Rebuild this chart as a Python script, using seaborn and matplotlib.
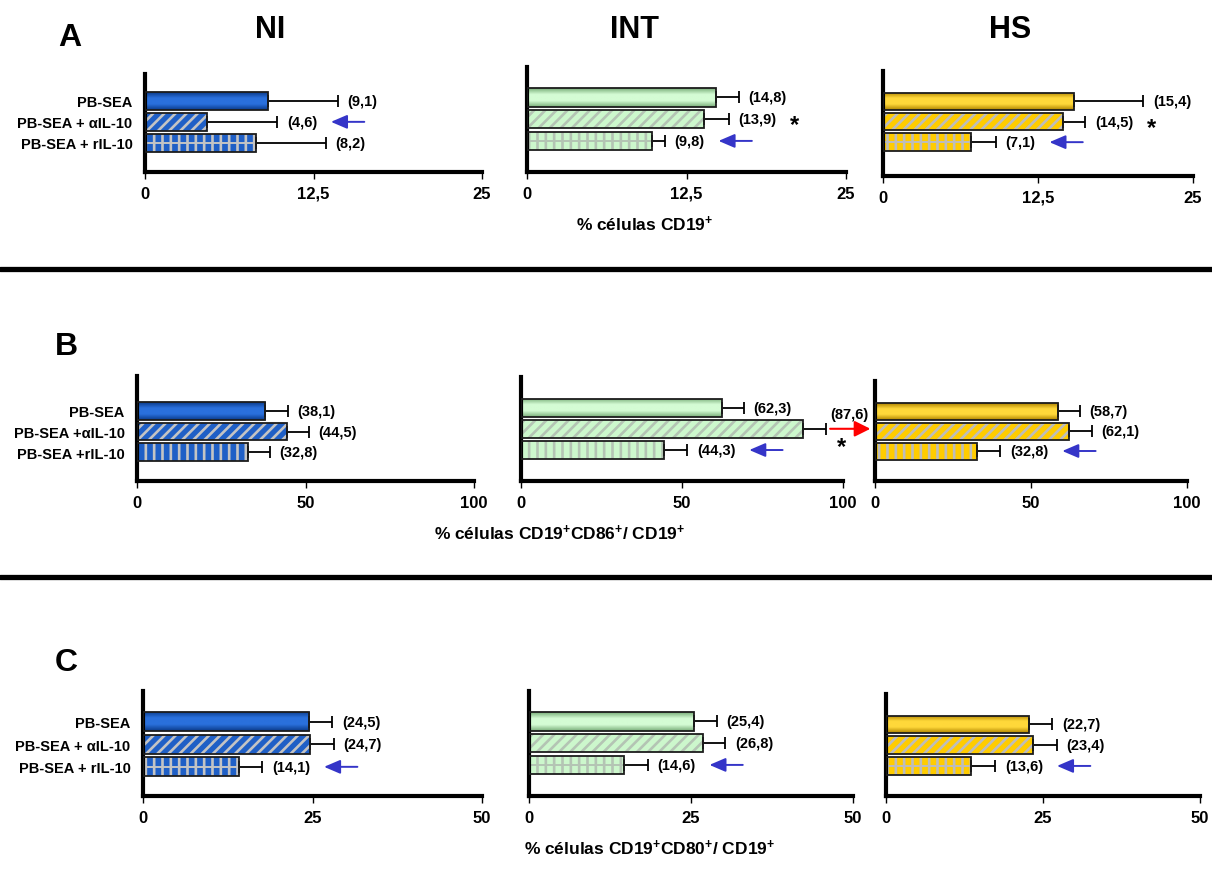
import numpy as np
import pandas as pd
import matplotlib
matplotlib.use("Agg")
import matplotlib.pyplot as plt
import seaborn as sns
from matplotlib.colors import LinearSegmentedColormap
from matplotlib.patches import Rectangle
from matplotlib.lines import Line2D

sns.set_style("white")
plt.rcParams["font.family"] = ["Liberation Sans", "DejaVu Sans"]
plt.rcParams["font.weight"] = "bold"
plt.rcParams["text.color"] = "black"
plt.rcParams["axes.labelcolor"] = "black"
plt.rcParams["xtick.color"] = "black"
plt.rcParams["ytick.color"] = "black"
plt.rcParams["mathtext.fontset"] = "custom"
plt.rcParams["mathtext.rm"] = "Liberation Sans:bold"
plt.rcParams["mathtext.bf"] = "Liberation Sans:bold"
plt.rcParams["mathtext.it"] = "Liberation Sans:bold"
plt.rcParams["hatch.linewidth"] = 1.9

# ---- data -------------------------------------------------------------
groups = ["NI", "INT", "HS"]
cats_A = ["PB-SEA", "PB-SEA + αIL-10", "PB-SEA + rIL-10"]
cats_B = ["PB-SEA", "PB-SEA +αIL-10", "PB-SEA +rIL-10"]
cats_C = ["PB-SEA", "PB-SEA + αIL-10", "PB-SEA + rIL-10"]

# A: % células CD19+
cd19_ni = [9.1, 4.6, 8.2]
cd19_int = [14.8, 13.9, 9.8]
cd19_hs = [15.4, 14.5, 7.1]
cd19_err_ni = [5.2, 5.2, 5.2]
cd19_err_int = [1.8, 1.9, 1.0]
cd19_err_hs = [5.6, 1.8, 2.0]

# B: % células CD19+CD86+/CD19+
cd86_ni = [38.1, 44.5, 32.8]
cd86_int = [62.3, 87.6, 44.3]
cd86_hs = [58.7, 62.1, 32.8]
cd86_err_ni = [6.6, 6.5, 6.6]
cd86_err_int = [6.9, 7.0, 7.3]
cd86_err_hs = [7.0, 7.4, 7.4]

# C: % células CD19+CD80+/CD19+
cd80_ni = [24.5, 24.7, 14.1]
cd80_int = [25.4, 26.8, 14.6]
cd80_hs = [22.7, 23.4, 13.6]
cd80_err_ni = [3.4, 3.4, 3.5]
cd80_err_int = [3.6, 3.5, 3.7]
cd80_err_hs = [3.8, 3.8, 3.8]

ticks_A = [0, 12.5, 25]
ticklabels_A = ["0", "12,5", "25"]
ticks_B = [0, 50, 100]
ticklabels_B = ["0", "50", "100"]
ticks_C = [0, 25, 50]
ticklabels_C = ["0", "25", "50"]

xlabel_A = r"% células CD19$^{+}$"
xlabel_B = r"% células CD19$^{+}$CD86$^{+}$/ CD19$^{+}$"
xlabel_C = r"% células CD19$^{+}$CD80$^{+}$/ CD19$^{+}$"

rows = [
    dict(letter="A", cats=cats_A, vals=[cd19_ni, cd19_int, cd19_hs],
         errs=[cd19_err_ni, cd19_err_int, cd19_err_hs],
         ticks=ticks_A, ticklabels=ticklabels_A, xlabel=xlabel_A, midline=True),
    dict(letter="B", cats=cats_B, vals=[cd86_ni, cd86_int, cd86_hs],
         errs=[cd86_err_ni, cd86_err_int, cd86_err_hs],
         ticks=ticks_B, ticklabels=ticklabels_B, xlabel=xlabel_B, midline=False),
    dict(letter="C", cats=cats_C, vals=[cd80_ni, cd80_int, cd80_hs],
         errs=[cd80_err_ni, cd80_err_int, cd80_err_hs],
         ticks=ticks_C, ticklabels=ticklabels_C, xlabel=xlabel_C, midline=True),
]

# markers: blue arrows next to a bar's label, asterisks beside a label
blue_arrows = {(0, 0): 1, (0, 1): 2, (0, 2): 2, (1, 1): 2, (1, 2): 2,
               (2, 0): 2, (2, 1): 2, (2, 2): 2}
asterisks = {(0, 1): 1, (0, 2): 1}

# ---- styling ----------------------------------------------------------
base_colors = ["#1f5fc6", "#ccf7cc", "#ffcc00"]
grad_edges = ["#0a3a8a", "#79ad79", "#b08400"]
grad_mids = ["#2a70dc", "#d4fcd4", "#ffd83a"]
hatch_colors = ["#c4c4c4", "#b4c4b4", "#bdbdbd"]
outline = "#1c1c1c"

W, H = 1212, 895
fig = plt.figure(figsize=(W / 100, H / 100), dpi=100)

# axes boxes in pixels: left, right, top, bottom; and y padding (top, bottom)
boxes = [
    [(145, 482, 75, 173), (527, 846, 68, 173), (883, 1193, 72, 177)],
    [(137, 474, 377, 482), (521, 843, 378, 482), (875, 1187, 382, 482)],
    [(143, 482, 692, 797), (529, 853, 692, 797), (886, 1200, 695, 797)],
]
pads = [
    [(1.29, 1.40), (1.40, 1.43), (1.49, 1.66)],
    [(1.70, 1.40), (1.44, 1.46), (1.50, 1.50)],
    [(1.38, 1.30), (1.40, 1.43), (1.47, 1.45)],
]


def fmt(v):
    return "(" + f"{v:.1f}".replace(".", ",") + ")"


for r, row in enumerate(rows):
    for c in range(3):
        l, rr, t, b = boxes[r][c]
        ax = fig.add_axes([l / W, 1 - b / H, (rr - l) / W, (b - t) / H])
        vals = row["vals"][c]
        errs = row["errs"][c]
        cats = row["cats"]
        df = pd.DataFrame({"grupo": cats, "valor": vals})
        sns.barplot(data=df, x="valor", y="grupo", hue="grupo",
                    palette=dict(zip(cats, [base_colors[c]] * 3)),
                    orient="h", width=0.85, errorbar=None, saturation=1,
                    legend=False, ax=ax, zorder=2)
        xmax = row["ticks"][-1]
        bars = sorted(ax.patches, key=lambda p: p.get_y())
        centers = []
        for i, p in enumerate(bars):
            x0, y0, w, h = p.get_x(), p.get_y(), p.get_width(), p.get_height()
            centers.append(y0 + h / 2)
            if i == 0:
                cmap = LinearSegmentedColormap.from_list(
                    "g", [grad_edges[c], grad_mids[c], grad_mids[c], grad_edges[c]])
                grad = np.linspace(0, 1, 64).reshape(-1, 1)
                im = ax.imshow(grad, extent=(x0, x0 + w, y0 + h, y0), cmap=cmap,
                               aspect="auto", interpolation="bilinear", zorder=2.1)
                im.set_clip_path(p)
                p.set_linewidth(0)
            else:
                p.set_hatch("///" if i == 1 else "||")
                p.set_edgecolor(hatch_colors[c])
                p.set_linewidth(0)
                if i == 2 and row["midline"]:
                    ax.plot([x0, x0 + w], [y0 + h / 2] * 2, color=hatch_colors[c],
                            lw=1.4, zorder=2.5, solid_capstyle="butt")
            ax.add_patch(Rectangle((x0, y0), w, h, fill=False, edgecolor=outline,
                                   lw=1.3, zorder=4))
        centers = np.array(centers)
        ax.errorbar(vals, centers, xerr=[np.zeros(3), errs], fmt="none",
                    ecolor="black", elinewidth=1.3, capsize=4.5, capthick=1.3,
                    zorder=3)

        labels = []
        for i, (v, e, yc) in enumerate(zip(vals, errs, centers)):
            if (r, c, i) == (1, 1, 1):
                lab = ax.text(102.0, 0.3, fmt(v), ha="center", va="center",
                              fontsize=10.5, fontweight="bold", clip_on=False)
            else:
                lab = ax.annotate(fmt(v), xy=(v + e, yc), xytext=(7, 0),
                                  textcoords="offset points", va="center",
                                  ha="left", fontsize=10.5, fontweight="bold",
                                  annotation_clip=False)
            labels.append(lab)

        if (r, c) in blue_arrows:
            lab = labels[blue_arrows[(r, c)]]
            ax.annotate("", xy=(1, 0.5), xycoords=lab, xytext=(34, 0),
                        textcoords="offset points",
                        arrowprops=dict(arrowstyle="-|>,head_length=0.7,head_width=0.3",
                                        color="#3535c8", lw=1.4, shrinkA=0,
                                        shrinkB=10, mutation_scale=14))
        if (r, c) in asterisks:
            lab = labels[asterisks[(r, c)]]
            ax.annotate("*", xy=(1, 0.5), xycoords=lab, xytext=(13, -4),
                        textcoords="offset points", ha="center", va="center",
                        fontsize=17, fontweight="bold")
        if (r, c) == (1, 1):
            ax.annotate("", xy=(108.5, 1), xytext=(96, 1), xycoords="data",
                        arrowprops=dict(arrowstyle="-|>,head_length=0.8,head_width=0.4",
                                        color="#ff0000", lw=1.5, shrinkA=0,
                                        shrinkB=0, mutation_scale=12),
                        annotation_clip=False)
            ax.text(99.5, 1.85, "*", ha="center", va="center", fontsize=17,
                    fontweight="bold", clip_on=False)

        ax.set_xlim(0, xmax)
        tp, bp = pads[r][c]
        ax.set_ylim(2 + bp, -tp)
        ax.set_xticks(row["ticks"])
        ax.set_xticklabels(row["ticklabels"], fontsize=12, fontweight="bold")
        ax.tick_params(axis="x", length=5, width=1, pad=5, color="black",
                       labelcolor="black", bottom=True)
        for s in ["top", "right"]:
            ax.spines[s].set_visible(False)
        for s in ["left", "bottom"]:
            ax.spines[s].set_linewidth(3)
            ax.spines[s].set_color("black")
        ax.set_xlabel("")
        ax.set_ylabel("")
        if c == 0:
            ax.tick_params(axis="y", length=0, pad=9, labelsize=10.5,
                           labelcolor="black")
            for tl in ax.get_yticklabels():
                tl.set_fontweight("bold")
        else:
            ax.tick_params(axis="y", left=False, labelleft=False)
        ax.set_facecolor("white")

    fig.text([645, 560, 650][r] / W, 1 - [224, 533, 848][r] / H, row["xlabel"],
             ha="center", va="center", fontsize=12.5, fontweight="bold")
    fig.text([70, 66, 66][r] / W, 1 - [38, 347, 663][r] / H, row["letter"],
             ha="center", va="center", fontsize=23, fontweight="bold")

for g, x in zip(groups, [270, 635, 1010]):
    fig.text(x / W, 1 - 30 / H, g, ha="center", va="center", fontsize=22,
             fontweight="bold")

for yline in [270, 578]:
    fig.add_artist(Line2D([0, 1], [1 - yline / H] * 2, color="black", lw=3.8,
                          transform=fig.transFigure))

fig.savefig("out.png", dpi=100, facecolor="white")
